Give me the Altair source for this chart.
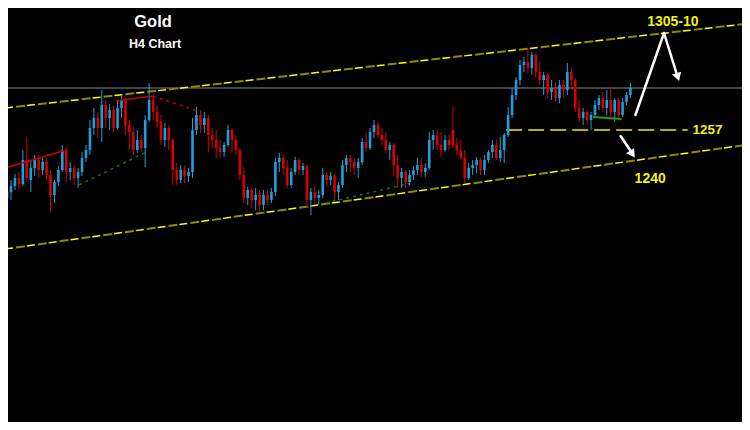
import altair as alt
import pandas as pd

# ---- candle data (H4 gold prices) ----
opens = [1223,1226,1229,1233,1230,1242,1232,1238,1242,1237,
         1241,1234.5,1224.5,1231,1237,1247,1236,1238,1233,1236,
         1243,1247,1258,1263,1258,1269.5,1263,1267,1258,1268,
         1272,1259.5,1256,1247,1252,1248,1262,1272,1266,1261,
         1252,1258,1252,1237,1232,1237,1234,1236,1257,1264.5,
         1259.5,1263,1254.5,1252,1248,1246,1249.5,1257,1252,1247,
         1234.5,1223,1227,1222,1224.5,1219.5,1224.5,1222,1226,1241,
         1243,1238,1229.5,1236,1242,1237,1239,1222,1226,1223,
         1224.5,1234.5,1232,1234,1226,1229.5,1239.5,1243,1241,1238,
         1241,1251,1248,1256,1259.5,1254.5,1252,1247,1249.5,1239.5,
         1233,1236,1231,1234.5,1237,1239.5,1236,1238,1252,1254.5,
         1249.5,1247,1252,1257,1249.5,1247,1243,1233,1238,1239.5,
         1242,1237,1242,1246,1249.5,1243,1247,1254.5,1264.5,1274.5,
         1282,1289.5,1291,1288,1294.5,1286,1282,1284.5,1276,1278,
         1273,1279.5,1277,1286,1282,1268,1263,1266,1262,1264.5,
         1269.5,1273,1268,1272,1266,1272,1264.5,1271,1274.5]
highs = [1228,1232,1235,1236,1247,1253.5,1242,1244.5,1244.5,1243,
         1243,1237,1232,1239,1249.5,1248.5,1241,1239.5,1238,1246,
         1249.5,1262,1268,1266,1277,1272,1270,1269.5,1272,1274,
         1273,1262,1258.5,1257,1254.5,1264.5,1280.5,1273.5,1269.5,1264.5,
         1260.5,1259.5,1253,1240.5,1239.5,1239.5,1238,1263,1268.5,1267,
         1266,1264.5,1258,1257,1252,1251,1259.5,1258,1254.5,1248,
         1238.5,1228.5,1228,1228,1227,1227,1227,1228,1243,1245.5,
         1244.5,1242,1238,1243.5,1243,1240.5,1239.5,1228,1229,1227,
         1238,1236,1236,1235,1231,1242,1244.5,1244.5,1243,1243,
         1253,1256,1258,1262,1261,1258,1256,1251,1250.5,1244.5,
         1238,1237,1237,1239,1243,1243,1240.5,1256,1257,1257,
         1256,1254.5,1254.5,1268.5,1253,1252,1247,1240.5,1242,1243.5,
         1243,1244.5,1247,1252,1252,1253.5,1255.5,1268.5,1278,1283.5,
         1292,1293.5,1298,1296,1295.5,1291,1286,1285.5,1282,1281,
         1282,1282,1290.5,1288,1283,1272,1268,1267,1266,1272,
         1274.5,1276,1277,1278,1273,1273,1273,1276,1280.5]
lows = [1214.5,1222,1227,1227,1229,1231,1226,1234,1233,1234.5,
        1232,1216,1220.5,1229,1236,1231,1232,1229.5,1228,1234,
        1241,1244.5,1254.5,1253,1251,1258,1257,1256,1257,1263,
        1254.5,1247,1244.5,1245.5,1246,1238.5,1261,1262,1258,1249.5,
        1248.5,1247,1229.5,1229.5,1230.5,1230.5,1231,1233,1254.5,1255.5,
        1255.5,1246,1248,1243,1243,1243.5,1248.5,1246,1244.5,1232,
        1220.5,1219.5,1218,1217,1216,1217,1219.5,1220.5,1224,1236,
        1234.5,1228,1228,1234.5,1234.5,1234.5,1218.5,1214.5,1219.5,1219.5,
        1223,1229,1229.5,1222,1222,1228,1236,1236,1234.5,1233,
        1239.5,1246,1247,1253,1253,1249.5,1245.5,1242,1234.5,1228,
        1228,1228,1229.5,1232,1234.5,1233.5,1233.5,1237,1247,1247,
        1243.5,1246,1247,1248,1244.5,1242,1230.5,1232,1234.5,1235.5,
        1234.5,1234.5,1240.5,1243,1242,1241,1240.5,1253.5,1263,1272,
        1279.5,1286,1285.5,1284.5,1283,1279.5,1274.5,1273,1272,1271,
        1270.5,1273,1274.5,1277,1266,1261,1259.5,1259.5,1257,1263,
        1267,1266,1264.5,1262,1261,1263,1263.5,1269.5,1273]
closes = [1226,1229,1233,1230,1242,1233,1238,1242,1237,1241,
          1234.5,1224.5,1231,1237,1247,1236,1238,1233,1236,1243,
          1247,1258,1263,1258,1269.5,1263,1267,1258,1268,1272,
          1259.5,1256,1247,1252,1248,1262,1272,1266,1261,1252,
          1258,1252,1237,1232,1237,1234,1236,1257,1264.5,1259.5,
          1263,1254.5,1252,1248,1246,1249.5,1257,1252,1247,1234.5,
          1223,1227,1222,1224.5,1219.5,1224.5,1222,1226,1241,1243,
          1238,1229.5,1236,1242,1237,1239,1222,1226,1223,1224.5,
          1234.5,1232,1234,1226,1229.5,1239.5,1243,1241,1238,1241,
          1251,1248,1256,1259.5,1254.5,1252,1247,1249.5,1239.5,1233,
          1236,1231,1234.5,1237,1239.5,1236,1238,1252,1254.5,1249.5,
          1247,1252,1249.5,1249.5,1247,1243,1233,1238,1239.5,1242,
          1237,1242,1246,1249.5,1243,1247,1254.5,1264.5,1274.5,1282,
          1289.5,1291,1288,1294.5,1286,1282,1284.5,1276,1278,1273,
          1279.5,1277,1286,1282,1268,1263,1266,1262,1264.5,1269.5,
          1273,1268,1272,1266,1272,1264.5,1271,1274.5,1278]

# ---- annotation lines: [x1, y1, x2, y2] in (bar index, price) ----
upper_channel = [-0.5, 1268, 187, 1310]
lower_channel = [-0.5, 1197.5, 187, 1249.5]
level_gray = [-0.5, 1278, 187, 1278]
level_1257 = [126.5, 1257, 172.5, 1257]
red_line_a = [-0.5, 1238, 15, 1247]
red_line_b = [27.5, 1271.5, 37, 1274]
red_dotted = [37, 1274, 48.25, 1266.5]
green_dotted_a = [18.25, 1229.5, 35.25, 1246]
green_dotted_b = [80.75, 1220.5, 102.5, 1230.5]
green_solid = [148.5, 1263.5, 155.75, 1262.5]
arrow_up = [159.25, 1264.5, 166.5, 1305.5]
arrow_down_a = [166.5, 1305.5, 169.8, 1284.5]
arrow_down_b = [155.5, 1254, 158.2, 1246]
arrow_heads_x = [170.0, 158.5]
arrow_heads_y = [1283.5, 1245]
arrow_heads_angle = [342, 326]

# ---- text labels ----
label_text = ["Gold", "H4 Chart", "1305-10", "1257", "1240"]
label_x = [37, 37.5, 168.75, 177.5, 163]
label_y = [1311, 1300, 1311, 1257, 1232.5]
label_size = [16.5, 12.5, 14, 13.5, 14]
label_color = ["white", "white", "#f2f20a", "#f2f20a", "#f2f20a"]

W, H = 734, 414
xscale = alt.Scale(domain=[1.5, 185], nice=False, zero=False)
yscale = alt.Scale(domain=[1111, 1318], nice=False, zero=False)

BLUE = "#1e9fdc"
RED = "#d80000"

df = pd.DataFrame({"i": list(range(len(opens))), "open": opens, "high": highs,
                   "low": lows, "close": closes})

base = alt.Chart(df).encode(
    x=alt.X("i:Q", scale=xscale, axis=None),
    color=alt.condition("datum.close >= datum.open", alt.value(BLUE), alt.value(RED)),
)
wicks = base.mark_rule(strokeWidth=1, clip=True).encode(
    y=alt.Y("low:Q", scale=yscale, axis=None), y2="high:Q")
bodies = base.mark_bar(size=2.6, clip=True).encode(
    y=alt.Y("open:Q", scale=yscale, axis=None), y2="close:Q")


def seg(s, **style):
    d = pd.DataFrame([{"x": s[0], "y": s[1], "x2": s[2], "y2": s[3]}])
    return alt.Chart(d).mark_rule(clip=True, **style).encode(
        x=alt.X("x:Q", scale=xscale, axis=None),
        y=alt.Y("y:Q", scale=yscale, axis=None),
        x2="x2:Q", y2="y2:Q")


layers = [
    seg(level_gray, color="#8c8c8c", strokeWidth=1),
    seg(upper_channel, color="#ffff00", strokeWidth=1.5, strokeDash=[8, 14]),
    seg(upper_channel, color="#8c8c00", strokeWidth=2, strokeDash=[9, 13], strokeDashOffset=11),
    seg(lower_channel, color="#ffff00", strokeWidth=1.5, strokeDash=[8, 14]),
    seg(lower_channel, color="#8c8c00", strokeWidth=2, strokeDash=[9, 13], strokeDashOffset=11),
    seg(level_1257, color="#f0f000", strokeWidth=1.5, strokeDash=[16, 6]),
    seg(green_dotted_a, color="#0b7a0b", strokeWidth=1.5, strokeDash=[3, 4]),
    seg(green_dotted_b, color="#0b7a0b", strokeWidth=1.5, strokeDash=[3, 4]),
    wicks,
    bodies,
    seg(red_line_a, color="#c80000", strokeWidth=1.5),
    seg(red_line_b, color="#c80000", strokeWidth=1.5),
    seg(red_dotted, color="#c80000", strokeWidth=1.5, strokeDash=[3, 4]),
    seg(green_solid, color="#1f9a1f", strokeWidth=2),
    seg(arrow_up, color="white", strokeWidth=2.5, strokeCap="round"),
    seg(arrow_down_a, color="white", strokeWidth=2.5, strokeCap="round"),
    seg(arrow_down_b, color="white", strokeWidth=2.5, strokeCap="round"),
]

heads = pd.DataFrame({"x": arrow_heads_x, "y": arrow_heads_y, "a": arrow_heads_angle})
head_marks = alt.Chart(heads).mark_point(shape="triangle-down", filled=True, size=90,
                                         color="white", opacity=1).encode(
    x=alt.X("x:Q", scale=xscale, axis=None),
    y=alt.Y("y:Q", scale=yscale, axis=None),
    angle=alt.Angle("a:Q", scale=None),
)

labels = pd.DataFrame({"t": label_text, "x": label_x, "y": label_y,
                       "s": label_size, "c": label_color})
text_marks = alt.Chart(labels).mark_text(font="Liberation Sans", fontWeight="bold",
                                         align="center", baseline="middle").encode(
    x=alt.X("x:Q", scale=xscale, axis=None),
    y=alt.Y("y:Q", scale=yscale, axis=None),
    text="t:N",
    size=alt.Size("s:Q", scale=None, legend=None),
    color=alt.Color("c:N", scale=None, legend=None),
)

chart = alt.layer(*layers, head_marks, text_marks).properties(
    width=W, height=H, background="black", padding=0,
    autosize=alt.AutoSizeParams(type="none"),
).configure_view(strokeWidth=0)

chart.save("out.html", embed_options={"renderer": "svg", "actions": False})
